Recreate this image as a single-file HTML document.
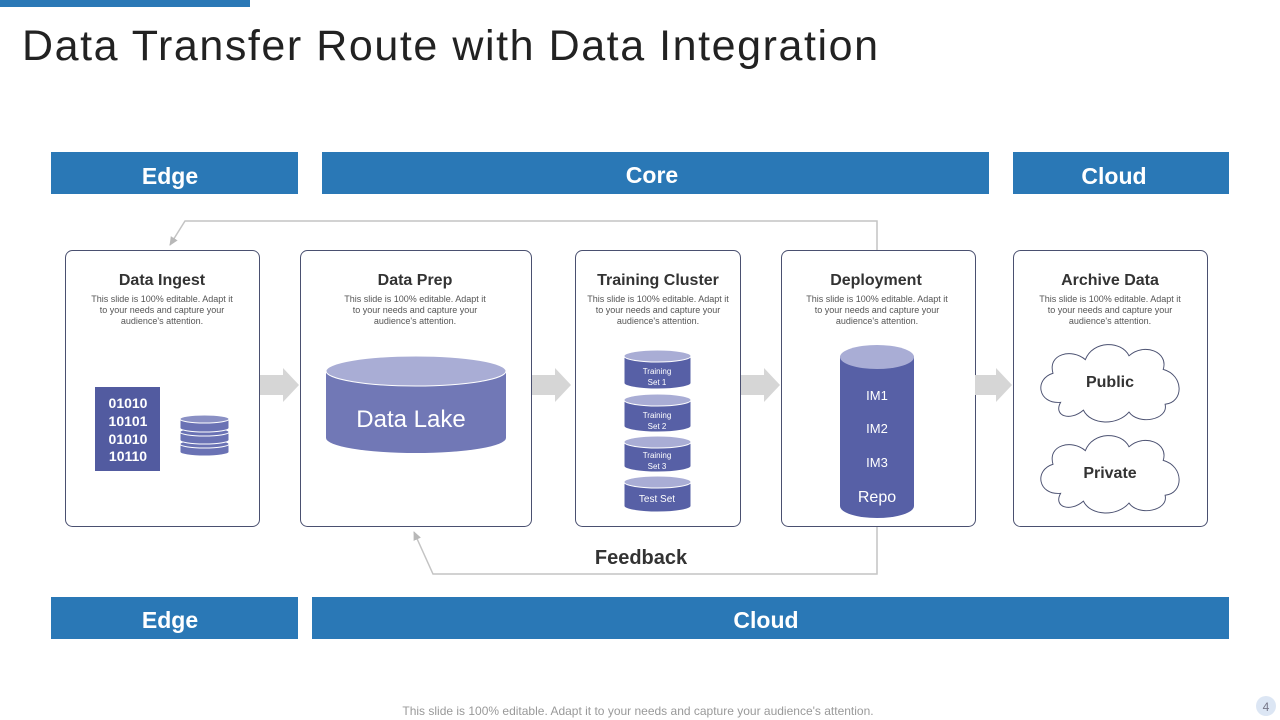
<!DOCTYPE html>
<html><head><meta charset="utf-8"><style>
html,body{margin:0;padding:0;background:#fff;}
svg{display:block;}
text{font-family:"Liberation Sans",sans-serif;}
</style></head><body>
<svg width="1280" height="720" viewBox="0 0 1280 720" xmlns="http://www.w3.org/2000/svg">
<defs>
<marker id="ah" markerWidth="10" markerHeight="10" refX="8" refY="5" orient="auto" markerUnits="userSpaceOnUse"><path d="M0,1 L9,5 L0,9 Z" fill="#b8b8b8"/></marker>
<path id="cloud" d="M-52,22 C-76,24 -80,-2 -60,-8 C-66,-28 -40,-34 -26,-22 C-18,-42 12,-42 20,-26 C36,-40 62,-30 56,-12 C78,-6 78,22 58,24 C62,40 30,46 20,32 C8,46 -20,46 -28,30 C-42,42 -60,36 -52,22 Z"/>
</defs>
<rect x="0" y="0" width="250" height="7" fill="#2a78b6"/>
<text x="22" y="60" font-size="43" fill="#222" textLength="856" lengthAdjust="spacing">Data Transfer Route with Data Integration</text>

<rect x="51" y="152" width="247" height="42" fill="#2a78b6"/>
<text x="170" y="184" font-size="23" font-weight="bold" fill="#fff" text-anchor="middle">Edge</text>
<rect x="322" y="152" width="667" height="42" fill="#2a78b6"/>
<text x="652" y="183" font-size="23" font-weight="bold" fill="#fff" text-anchor="middle">Core</text>
<rect x="1013" y="152" width="216" height="42" fill="#2a78b6"/>
<text x="1114" y="184" font-size="23" font-weight="bold" fill="#fff" text-anchor="middle">Cloud</text>

<rect x="51" y="597" width="247" height="42" fill="#2a78b6"/>
<text x="170" y="628" font-size="23" font-weight="bold" fill="#fff" text-anchor="middle">Edge</text>
<rect x="312" y="597" width="917" height="42" fill="#2a78b6"/>
<text x="766" y="628" font-size="23" font-weight="bold" fill="#fff" text-anchor="middle">Cloud</text>

<!-- feedback lines -->
<polyline points="877,250 877,221 185,221 170,245" fill="none" stroke="#c4c4c4" stroke-width="1.5" marker-end="url(#ah)"/>
<polyline points="877,527 877,574 433,574 414,532" fill="none" stroke="#c4c4c4" stroke-width="1.5" marker-end="url(#ah)"/>
<text x="641" y="564" font-size="20" font-weight="bold" fill="#333" text-anchor="middle">Feedback</text>

<!-- boxes -->
<g fill="#fff" stroke="#4a5070" stroke-width="1">
<rect x="65.5" y="250.5" width="194" height="276" rx="7"/>
<rect x="300.5" y="250.5" width="231" height="276" rx="7"/>
<rect x="575.5" y="250.5" width="165" height="276" rx="7"/>
<rect x="781.5" y="250.5" width="194" height="276" rx="7"/>
<rect x="1013.5" y="250.5" width="194" height="276" rx="7"/>
</g>
<g font-size="16" font-weight="bold" fill="#333" text-anchor="middle">
<text x="162" y="285">Data Ingest</text>
<text x="415" y="285">Data Prep</text>
<text x="658" y="285">Training Cluster</text>
<text x="876" y="285">Deployment</text>
<text x="1110" y="285">Archive Data</text>
</g>
<g font-size="9" fill="#555" text-anchor="middle">
<text x="162" y="302">This slide is 100% editable. Adapt it</text><text x="162" y="313">to your needs and capture your</text><text x="162" y="324">audience's attention.</text>
<text x="415" y="302">This slide is 100% editable. Adapt it</text><text x="415" y="313">to your needs and capture your</text><text x="415" y="324">audience's attention.</text>
<text x="658" y="302">This slide is 100% editable. Adapt it</text><text x="658" y="313">to your needs and capture your</text><text x="658" y="324">audience's attention.</text>
<text x="877" y="302">This slide is 100% editable. Adapt it</text><text x="877" y="313">to your needs and capture your</text><text x="877" y="324">audience's attention.</text>
<text x="1110" y="302">This slide is 100% editable. Adapt it</text><text x="1110" y="313">to your needs and capture your</text><text x="1110" y="324">audience's attention.</text>
</g>

<!-- gray arrows -->
<g fill="#d6d6d6">
<path d="M260,375 H283 V368 L299,385 L283,402 V395 H260 Z"/>
<path d="M532,375 H555 V368 L571,385 L555,402 V395 H532 Z"/>
<path d="M741,375 H764 V368 L780,385 L764,402 V395 H741 Z"/>
<path d="M975,375 H996 V368 L1012,385 L996,402 V395 H975 Z"/>
</g>

<!-- binary -->
<rect x="95" y="387" width="65" height="84" fill="#525ba0"/>
<g font-size="14" font-weight="bold" fill="#fff" text-anchor="middle">
<text x="128" y="408">01010</text><text x="128" y="426">10101</text><text x="128" y="444">01010</text><text x="128" y="461">10110</text>
</g>
<!-- small db -->
<g fill="#6a72b4" stroke="#fff" stroke-width="1">
<path d="M180,444 v8 a24.5,4 0 0 0 49,0 v-8 z"/><ellipse cx="204.5" cy="444" rx="24.5" ry="4"/>
<path d="M180,432 v8 a24.5,4 0 0 0 49,0 v-8 z"/><ellipse cx="204.5" cy="432" rx="24.5" ry="4"/>
<path d="M180,419 v9 a24.5,4 0 0 0 49,0 v-9 z"/><ellipse cx="204.5" cy="419" rx="24.5" ry="4" fill="#8a90c4"/>
</g>

<!-- data lake -->
<path d="M326,371 V438 A90,15 0 0 0 506,438 V371 Z" fill="#7178b6"/>
<ellipse cx="416" cy="371" rx="90" ry="15" fill="#a9add5" stroke="#fff" stroke-width="1"/>
<text x="411" y="427" font-size="24" fill="#fff" text-anchor="middle">Data Lake</text>

<!-- training stack -->
<g stroke="#fff" stroke-width="1">
<path d="M624,482 V506 A33.5,6 0 0 0 691,506 V482 Z" fill="#5760a6"/><ellipse cx="657.5" cy="482" rx="33.5" ry="6" fill="#a9add5"/>
<path d="M624,442 V466 A33.5,6 0 0 0 691,466 V442 Z" fill="#5760a6"/><ellipse cx="657.5" cy="442" rx="33.5" ry="6" fill="#a9add5"/>
<path d="M624,400 V426 A33.5,6 0 0 0 691,426 V400 Z" fill="#5760a6"/><ellipse cx="657.5" cy="400" rx="33.5" ry="6" fill="#a9add5"/>
<path d="M624,356 V383 A33.5,6 0 0 0 691,383 V356 Z" fill="#5760a6"/><ellipse cx="657.5" cy="356" rx="33.5" ry="6" fill="#a9add5"/>
</g>
<g font-size="8" fill="#fff" text-anchor="middle">
<text x="657" y="374">Training</text><text x="657" y="385">Set 1</text>
<text x="657" y="418">Training</text><text x="657" y="429">Set 2</text>
<text x="657" y="458">Training</text><text x="657" y="469">Set 3</text>
<text x="657" y="502" font-size="10">Test Set</text>
</g>

<!-- repo -->
<path d="M840,357 V506 A37,12 0 0 0 914,506 V357 Z" fill="#5760a6"/>
<ellipse cx="877" cy="357" rx="37" ry="12" fill="#a9add5"/>
<g fill="#fff" text-anchor="middle" font-size="13">
<text x="877" y="400">IM1</text><text x="877" y="433">IM2</text><text x="877" y="467">IM3</text>
<text x="877" y="502" font-size="16">Repo</text>
</g>

<!-- clouds -->
<use href="#cloud" transform="translate(1110,381) scale(0.95,0.97)" fill="#fff" stroke="#4a5070" stroke-width="1"/>
<use href="#cloud" transform="translate(1110,472) scale(0.95,0.97)" fill="#fff" stroke="#4a5070" stroke-width="1"/>
<text x="1110" y="387" font-size="16" font-weight="bold" fill="#333" text-anchor="middle">Public</text>
<text x="1110" y="478" font-size="16" font-weight="bold" fill="#333" text-anchor="middle">Private</text>

<text x="638" y="715" font-size="12" fill="#999" text-anchor="middle">This slide is 100% editable. Adapt it to your needs and capture your audience's attention.</text>
<circle cx="1266" cy="706" r="10" fill="#dce6f4"/>
<text x="1266" y="711" font-size="12" fill="#778" text-anchor="middle">4</text>
</svg>
</body></html>
